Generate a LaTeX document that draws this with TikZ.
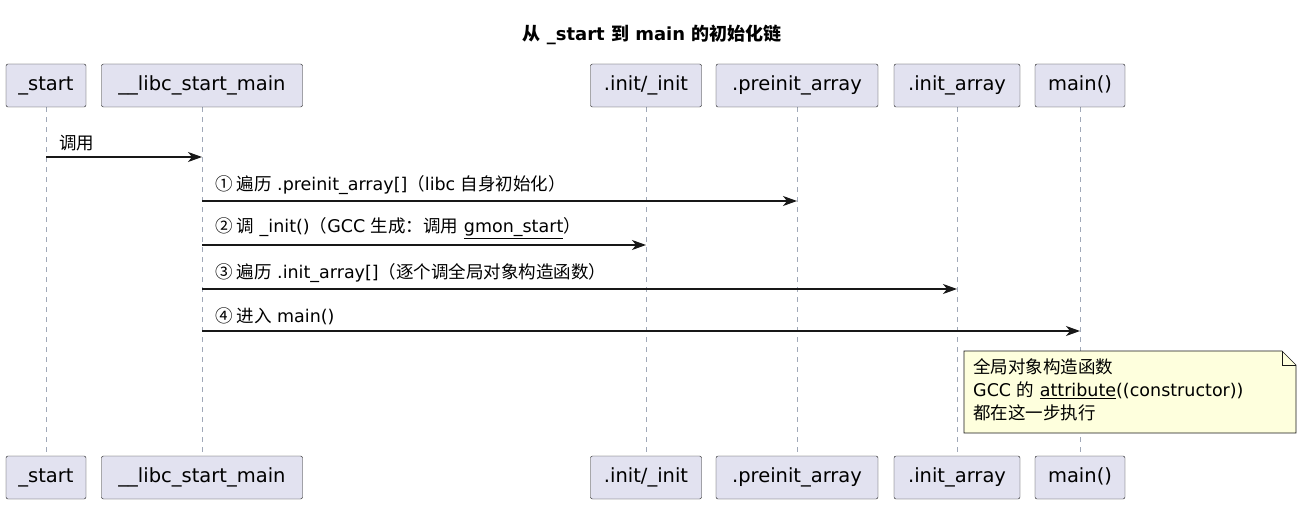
\documentclass[tikz,border=0pt]{standalone}
\usepackage{fontspec}
\setmainfont{DejaVu Sans}
\newfontfamily\cjk{Noto Sans CJK SC}
\newcommand{\zh}[1]{{\cjk #1}}
\usetikzlibrary{positioning, calc, arrows.meta, shapes.misc}
\definecolor{partfill}{HTML}{E2E2F0}
\definecolor{notefill}{HTML}{FEFFDD}
\definecolor{lineclr}{HTML}{181818}
\definecolor{lifeclr}{HTML}{A0A8B8}

\begin{document}
\begin{tikzpicture}[x=1pt, y=-1pt,
  part/.style={draw=lineclr, fill=partfill, rounded corners=2pt, minimum height=43pt, inner xsep=7pt, text height=14pt, text depth=4pt, font=\fontsize{19.5}{23}\selectfont},
  life/.style={lifeclr, dash pattern=on 5pt off 5pt, line width=0.6pt},
  msg/.style={-{Stealth[length=14pt, width=10pt, inset=4pt]}, line width=1.2pt, lineclr},
  lbl/.style={anchor=south west, inner sep=0pt, font=\fontsize{17.5}{20}\selectfont}]
\useasboundingbox (0,0) rectangle (1305,508);

\node[font=\bfseries\fontsize{18}{21}\selectfont] (title) at (652,35) {\zh{从} \_start \zh{到} main \zh{的初始化链}};

% participants (top and bottom)
\foreach \name/\cx/\bw/\txt in {start/46/80/\_start, libc/202/201/\_\_libc\_start\_main, init/646/111/{.init/\_init},
  preinit/797/162/.preinit\_array, initarr/957/126/.init\_array, main/1080/90/main()} {
  \draw[life] (\cx,107) -- (\cx,456);
  \node[part, minimum width=\bw pt] (\name top) at (\cx,85.5) {\txt};
  \node[part, minimum width=\bw pt] (\name bot) at (\cx,477.5) {\txt};
}

% messages
\coordinate (m1a) at (46,157);    \coordinate (m1b) at (202,157);
\coordinate (m2a) at (202,201);   \coordinate (m2b) at (797,201);
\coordinate (m3a) at (202,245);   \coordinate (m3b) at (646,245);
\coordinate (m4a) at (202,289);   \coordinate (m4b) at (957,289);
\coordinate (m5a) at (202,331);   \coordinate (m5b) at (1080,331);
\draw[msg] (m1a) -- (m1b);
\node[lbl] at ($(m1a)+(13,-6)$) {\zh{调用}};
\draw[msg] (m2a) -- (m2b);
\node[lbl] at ($(m2a)+(13,-6)$) {\zh{① 遍历} .preinit\_array[]\zh{（}libc \zh{自身初始化）}};
\draw[msg] (m3a) -- (m3b);
\node[lbl] at ($(m3a)+(13,-6)$) {\zh{② 调} \_init()\zh{（}GCC \zh{生成：调用} \underline{gmon\_start}\zh{）}};
\draw[msg] (m4a) -- (m4b);
\node[lbl] at ($(m4a)+(13,-6)$) {\zh{③ 遍历} .init\_array[]\zh{（逐个调全局对象构造函数）}};
\draw[msg] (m5a) -- (m5b);
\node[lbl] at ($(m5a)+(13,-6)$) {\zh{④ 进入} main()};

% note
\draw[lineclr, fill=notefill, line width=0.6pt] (964,351) -- (1282,351) -- (1296,365) -- (1296,433) -- (964,433) -- cycle;
\draw[lineclr, line width=0.6pt] (1282,351) -- (1282,365) -- (1296,365);
\node[anchor=north west, align=left, inner sep=0pt, font=\fontsize{17.5}{23}\selectfont] (note) at (973,358)
  {\zh{全局对象构造函数}\\GCC \zh{的} \underline{attribute}((constructor))\\\zh{都在这一步执行}};
\end{tikzpicture}
\end{document}
